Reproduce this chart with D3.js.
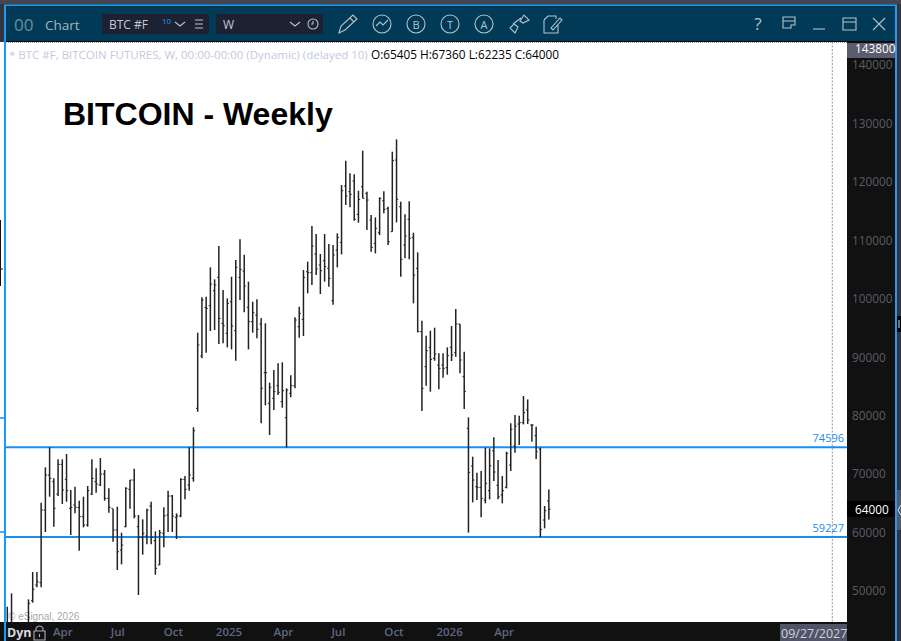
<!DOCTYPE html>
<html>
<head>
<meta charset="utf-8">
<script src="https://cdn.jsdelivr.net/npm/d3@7"></script>
<style>
  html, body { margin: 0; padding: 0; background: #34343e; overflow: hidden; }
  svg { display: block; }
</style>
</head>
<body>
<div id="chart"></div>
<script>
// weekly bars, first one is the week of 2024-01-01
const firstWeek = new Date(2024, 0, 1)
const opens = [44000,44500,42500,40000,42000,43200,48343,51023,51422,63855,69843,68702,66592,71668,69102,64140,64710,64311,62714,61289,66592,68702,68132,70014,65851,64140,60433,57011,61003,67391,68987,61003,59178,59406,64539,58608,54445,59863,62999,66250,62600,62828,69102,68132,69273,81251,90205,98531,98816,101383,103664,95794,94083,99500,94539,103664,104747,98531,96079,97220,95680,87353,82106,82962,85129,82392,79654,83817,85129,95223,96478,104633,104462,107656,105774,106515,105204,99672,108340,109653,119291,118321,120146,114443,119177,118036,113474,109482,111306,116782,115470,111478,123739,115755,109197,113588,110508,105205,94367,88379,91687,89805,88664,88664,88208,91687,90774,95679,86668,77828,71385,67848,67734,65567,67168,74007,68076,66423,67734,71555,74806,78570,78798,80965,78399,76574,74293,62145,65405]
const highs = [47316,49597,43800,42500,44000,48571,53247,53247,65110,71155,74576,69273,72523,72523,73436,67277,67847,65452,66136,67961,72523,70984,72751,70698,67562,64026,64425,59977,67733,68987,70926,62999,62258,64083,65280,60205,60433,64311,67163,66421,63285,69273,69672,74576,78001,94197,100242,100356,105375,103322,109025,101497,100071,103778,106629,110165,107542,102923,99500,99900,96706,95794,85642,87810,88950,89121,84673,86897,96820,98645,104919,106344,112446,111078,107656,111078,109367,109196,111192,119462,123625,121458,121287,118492,125336,118321,114329,113930,117352,118379,115755,125165,127275,116611,114443,116668,111307,107942,96249,93683,94538,95052,90660,90660,91687,95337,98245,95679,90945,79710,72981,70243,70528,74521,74407,76289,72411,69673,73836,78684,80110,79996,83361,82790,78513,78114,74521,64541,67360]
const lows = [42500,43500,38500,39500,41500,43000,47999,50624,50624,60091,66136,61003,66250,64882,65280,59578,63285,56897,60889,61003,66421,66820,67961,65452,63399,58437,53589,54559,60889,64083,62429,49312,56213,57981,57981,52791,54445,57467,60091,60091,58893,62600,65680,67163,68702,80681,89805,90775,94482,94653,92258,92372,91687,91345,89406,99786,97676,91345,94197,93228,78685,81764,76690,80966,83532,81365,74578,83133,84673,93341,93627,100926,102352,104063,100812,102923,102067,98987,105375,107600,116040,115641,113360,113018,117181,111763,108056,107771,110908,114614,109197,111478,113074,103779,106916,106744,99216,94253,80794,85128,84102,89405,84501,86497,87010,89349,90090,87238,81136,59978,65167,65567,62601,64997,65681,68817,65681,64997,67563,70528,73665,74977,78513,78570,75547,72581,59227,60719,62235]
const closes = [44500,44000,40000,42000,43200,47886,50282,51593,63855,69843,69273,64140,71668,67277,67163,64311,64311,62714,61289,67163,69273,68303,70014,65851,64311,60433,56726,57867,67562,68987,62828,59178,59863,63855,59178,53875,59977,62828,66250,62828,62828,69102,67391,69843,77430,92087,99786,98360,102523,102352,96649,95395,99216,95338,105375,105033,102181,96079,97619,94767,84673,87353,84843,84103,83988,84274,84388,85129,96364,97505,103664,104462,109025,105090,104804,105489,103493,107485,110507,118492,117580,117865,113588,117010,117181,116896,108797,112048,117181,115299,109767,123625,117010,106744,110737,110337,104064,94367,84672,91116,89634,90546,88093,88093,90261,90375,95679,89520,84159,70300,68989,67734,65852,68419,71441,70358,66137,67168,73551,77657,78228,78798,80509,79254,78399,73836,60548,63742,64000]

const priceTicks = [50000,60000,70000,80000,90000,100000,110000,120000,130000,140000]
const levels = [74596, 59227]
const timeTicks = [new Date(2024,3,1),new Date(2024,6,1),new Date(2024,9,1),new Date(2025,0,1),new Date(2025,3,1),new Date(2025,6,1),new Date(2025,9,1),new Date(2026,0,1),new Date(2026,3,1)]
const cursorDate = new Date(2027,8,27)

const W = 901, H = 641
const plot = {left: 6, right: 847, top: 42, bottom: 622}
const uiFont = '"Open Sans", "Noto Sans", sans-serif'
const blue = '#1a8cf0'

const svg = d3.select('#chart').append('svg').attr('width', W).attr('height', H)

const x = d3.scaleTime().domain([firstWeek, cursorDate]).range([7.3, 832.3])
const y = d3.scaleLinear().domain([50000, 140000]).range([591, 65])

const weeks = opens.map((o, i) => ({
  date: d3.timeWeek.offset(firstWeek, i), o, h: highs[i], l: lows[i], c: closes[i]
}))

// neighbour window on the left edge
svg.append('rect').attr('x', 0).attr('y', 42).attr('width', 4).attr('height', 580).attr('fill', '#fff')
svg.append('rect').attr('x', 0).attr('y', 622).attr('width', 4).attr('height', 19).attr('fill', '#111')
svg.append('path').attr('fill', 'none').attr('stroke', '#111').attr('d', 'M0.500 220v66M0 269h3')
svg.append('path').attr('fill', 'none').attr('stroke', blue).attr('stroke-width', 1.5).attr('d', 'M0 418h4M0 532h4')

// neighbour window on the right edge
svg.append('rect').attr('x', 897).attr('y', 316).attr('width', 4).attr('height', 16).attr('fill', '#000')
svg.append('rect').attr('x', 897).attr('y', 490).attr('width', 4).attr('height', 40).attr('fill', '#555866')
svg.append('path').attr('fill', 'none').attr('stroke', '#ddd').attr('d', 'M901 505l-3 5 3 5M899 320v8')

// window frame
svg.append('rect').attr('x', 0).attr('y', 0).attr('width', W).attr('height', 4).attr('fill', '#45454f')
svg.append('rect').attr('x', 4).attr('y', 4.500).attr('width', 893).attr('height', H - 4).attr('fill', '#1a9cf5')
svg.append('rect').attr('x', 6).attr('y', 6).attr('width', 889).attr('height', 35).attr('fill', '#003a56')
svg.append('rect').attr('x', 6).attr('y', 41).attr('width', 889).attr('height', 1).attr('fill', '#0a0a0a')
svg.append('rect').attr('x', plot.left).attr('y', plot.top).attr('width', plot.right - plot.left).attr('height', plot.bottom - plot.top).attr('fill', '#fff')
svg.append('rect').attr('x', plot.right).attr('y', plot.top).attr('width', 48).attr('height', H - plot.top).attr('fill', '#111')
svg.append('rect').attr('x', plot.left).attr('y', plot.bottom).attr('width', plot.right - plot.left).attr('height', H - plot.bottom).attr('fill', '#111')
svg.append('line').attr('x1', plot.left).attr('x2', plot.right).attr('y1', 42.5).attr('y2', 42.5)
  .attr('stroke', '#999').attr('stroke-dasharray', '1,1')

// toolbar
const bar = svg.append('g').attr('font-family', uiFont)
bar.append('text').attr('x', 14).attr('y', 30.500).attr('fill', '#6f8ea0').attr('font-size', 17).text('00')
bar.append('text').attr('x', 45).attr('y', 29.500).attr('fill', '#a5b5c0').attr('font-size', 13.500).text('Chart')
bar.append('rect').attr('x', 102).attr('y', 14).attr('width', 107).attr('height', 20).attr('fill', '#1d2233')
bar.append('rect').attr('x', 216).attr('y', 14).attr('width', 107).attr('height', 20).attr('fill', '#1d2233')
bar.append('text').attr('x', 109).attr('y', 29).attr('fill', '#c3cad0').attr('font-size', 12).text('BTC #F')
bar.append('text').attr('x', 162).attr('y', 24).attr('fill', '#1e9ae8').attr('font-size', 8).text('10')
bar.append('text').attr('x', 223).attr('y', 29).attr('fill', '#c3cad0').attr('font-size', 12).text('W')

const icon = bar.append('g').attr('fill', 'none').attr('stroke', '#b5c2cb').attr('stroke-width', 1.1)
icon.append('path').attr('d', 'M175 22l5 4 5-4M290 22l5 4 5-4')
icon.append('path').attr('d', 'M195 20h8M195 24h8M195 28h8')
icon.append('circle').attr('cx', 313).attr('cy', 24).attr('r', 5)
icon.append('path').attr('d', 'M313 21v3h-2')
icon.append('path').attr('d', 'M339 33l2-7 12-11 4 4-12 11zM350 18l4 4')
icon.append('circle').attr('cx', 382).attr('cy', 24).attr('r', 9)
icon.append('path').attr('d', 'M376 26l4-4 3 3 5-5')
icon.append('circle').attr('cx', 416).attr('cy', 24).attr('r', 9)
icon.append('circle').attr('cx', 450).attr('cy', 24).attr('r', 9)
icon.append('circle').attr('cx', 484).attr('cy', 24).attr('r', 9)
icon.append('path').attr('d', 'M510 28l4-4 4 3-3 6zM520 21l4-6 5 5-6 3zM513 24l8-6')
icon.append('path').attr('d', 'M544 20l4-4h8v3M544 20v13h14v-8M551 28l9-10 2 2-9 10z')
icon.append('path').attr('d', 'M783 17h12v8h-4v3h-8zM783 21h12')
icon.append('path').attr('d', 'M813 29h12')
icon.append('path').attr('d', 'M843 18h13v12h-13zM843 22h13')
icon.append('path').attr('d', 'M873 18l12 12M885 18l-12 12')
bar.selectAll('text.glyph').data([['B', 416], ['T', 450], ['A', 484], ['?', 758]]).enter().append('text')
  .attr('class', 'glyph').attr('x', d => d[1]).attr('y', d => d[0] === '?' ? 30 : 28.5).attr('text-anchor', 'middle')
  .attr('fill', '#b5c2cb').attr('font-size', d => d[0] === '?' ? 17 : 11).text(d => d[0])

// legend line and title
svg.append('text').attr('x', 9).attr('y', 59).attr('font-family', uiFont).attr('font-size', 11.5)
  .attr('fill', '#c4c9dc').text('* BTC #F, BITCOIN FUTURES, W, 00:00-00:00 (Dynamic) (delayed 10)')
svg.append('text').attr('x', 371).attr('y', 59).attr('font-family', uiFont).attr('font-size', 11.8)
  .attr('fill', '#000').text('O:65405 H:67360 L:62235 C:64000')
svg.append('text').attr('x', 63).attr('y', 125).attr('font-family', '"Liberation Sans", Arial, sans-serif')
  .attr('font-weight', 'bold').attr('font-size', 32).attr('fill', '#000').text('BITCOIN - Weekly')
svg.append('text').attr('x', 8).attr('y', 619.5).attr('font-family', '"Liberation Sans", Arial, sans-serif')
  .attr('font-size', 10).attr('fill', '#aaa').text('© eSignal, 2026')

// dotted cursor line at the last date
svg.append('line').attr('x1', x(cursorDate)).attr('x2', x(cursorDate)).attr('y1', plot.top).attr('y2', plot.bottom)
  .attr('stroke', '#999').attr('stroke-dasharray', '2,1.5')

// horizontal levels
svg.append('g').selectAll('line').data(levels).enter().append('line')
  .attr('x1', plot.left).attr('x2', plot.right)
  .attr('y1', d => y(d)).attr('y2', d => y(d))
  .attr('stroke', blue).attr('stroke-width', 2)
svg.append('g').selectAll('text').data(levels).enter().append('text')
  .attr('x', 844).attr('y', d => y(d) - 5).attr('text-anchor', 'end')
  .attr('font-family', uiFont).attr('font-size', 11).attr('fill', blue).text(d => d)

// ohlc bars
svg.append('clipPath').attr('id', 'plotClip').append('rect')
  .attr('x', plot.left).attr('y', plot.top).attr('width', plot.right - plot.left).attr('height', plot.bottom - plot.top)
const ohlc = svg.append('g').attr('clip-path', 'url(#plotClip)').attr('stroke', '#222')
  .selectAll('g').data(weeks).enter().append('g')
ohlc.append('line').attr('x1', d => x(d.date)).attr('x2', d => x(d.date))
  .attr('y1', d => y(d.h)).attr('y2', d => y(d.l)).attr('stroke-width', 1.5)
ohlc.append('line').attr('x1', d => x(d.date) - 1.7).attr('x2', d => x(d.date))
  .attr('y1', d => y(d.o)).attr('y2', d => y(d.o)).attr('stroke-width', 1)
ohlc.append('line').attr('x1', d => x(d.date)).attr('x2', d => x(d.date) + 1.7)
  .attr('y1', d => y(d.c)).attr('y2', d => y(d.c)).attr('stroke-width', 1)

// price axis
const priceAxis = svg.append('g').attr('transform', `translate(${plot.right},0)`)
  .call(d3.axisRight(y).tickValues(priceTicks).tickSize(0).tickPadding(5).tickFormat(d3.format('d')))
priceAxis.select('.domain').remove()
priceAxis.selectAll('text').attr('font-family', uiFont).attr('font-size', 11.8).attr('fill', '#5c5c66')

// time axis
const timeAxis = svg.append('g').attr('transform', `translate(0,${plot.bottom})`)
  .call(d3.axisBottom(x).tickValues(timeTicks).tickSize(0).tickPadding(5.5)
    .tickFormat(d => d.getMonth() === 0 ? d3.timeFormat('%Y')(d) : d3.timeFormat('%b')(d)))
timeAxis.select('.domain').remove()
timeAxis.selectAll('text').attr('font-family', uiFont).attr('font-size', 11.5).attr('font-weight', 600).attr('fill', '#5f6880')

// tags on the axes
svg.append('rect').attr('x', 847).attr('y', 43).attr('width', 48).attr('height', 15).attr('fill', '#5a5d6e')
svg.append('text').attr('x', 855).attr('y', 53).attr('font-family', uiFont).attr('font-size', 11.8).attr('fill', '#fff').text('143800')
svg.append('rect').attr('x', 847).attr('y', 501).attr('width', 48).attr('height', 16).attr('fill', '#000')
svg.append('text').attr('x', 855).attr('y', 513.500).attr('font-family', uiFont).attr('font-size', 11.8).attr('fill', '#fff').text(closes[closes.length - 1])
svg.append('rect').attr('x', 780).attr('y', 624).attr('width', 67).attr('height', 17).attr('fill', '#4f5466')
svg.append('text').attr('x', 781).attr('y', 637.500).attr('font-family', uiFont).attr('font-size', 12.500).attr('fill', '#cfd3de')
  .text(d3.timeFormat('%m/%d/%Y')(cursorDate))
svg.append('text').attr('x', 7).attr('y', 637).attr('font-family', uiFont).attr('font-size', 12.500).attr('font-weight', 'bold').attr('fill', '#d5dae2').text('Dyn')
svg.append('g').attr('fill', 'none').attr('stroke', '#a8afb8').attr('stroke-width', 1.1)
  .append('path').attr('d', 'M34 640v-9h11v9zM36 631v-3q3.500-4 7 0v3M39.500 634v3')
</script>
</body>
</html>
